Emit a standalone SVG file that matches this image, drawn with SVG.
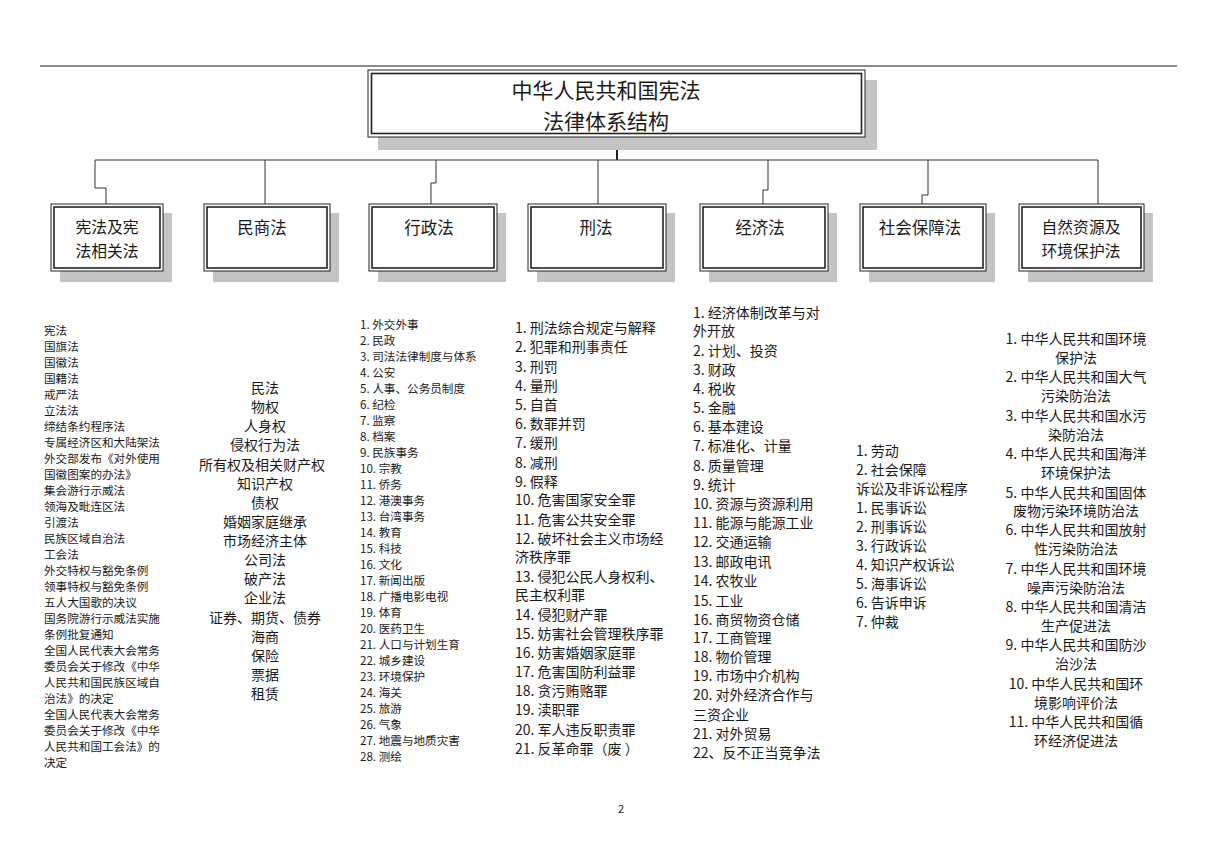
<svg xmlns="http://www.w3.org/2000/svg" width="1218" height="860" viewBox="0 0 1218 860">
<style>
.shadow{fill:#c4c4c4;stroke:none}
.outer{fill:#fff;stroke:#222;stroke-width:1}
.inner{fill:none;stroke:#222;stroke-width:1.6}
.conn{fill:none;stroke:#333;stroke-width:1}
.t{font-family:"Noto Sans CJK SC","Liberation Sans",sans-serif;fill:#1a1a1a;dominant-baseline:central}
.title{font-size:21px;text-anchor:middle}
.cat{font-size:16.5px;text-anchor:middle}
.cat2{font-size:15.8px;text-anchor:middle}
.s11{font-size:11.6px}
.s14{font-size:14px}
.mid{text-anchor:middle}
</style>
<rect x="0" y="0" width="1218" height="860" fill="#fff"/>
<line x1="40" y1="66" x2="1177" y2="66" stroke="#8a8a8a" stroke-width="2"/>

<g id="connectors">
<line x1="617" y1="137" x2="617" y2="160" stroke="#222" stroke-width="2"/>
<line class="conn" x1="95" y1="160" x2="1098" y2="160"/>
<path class="conn" d="M95,160 V188 H106 V204"/>
<path class="conn" d="M265,160 V204"/>
<path class="conn" d="M436,160 V183 H431 V204"/>
<path class="conn" d="M598,160 V204"/>
<path class="conn" d="M768,160 V190 H763 V204"/>
<path class="conn" d="M928,160 V195 H922 V204"/>
<path class="conn" d="M1098,160 V204"/>
</g>

<g id="root">
<rect class="shadow" x="378" y="80" width="499" height="70"/>
<rect class="outer" x="368" y="70" width="497" height="67"/>
<rect class="inner" x="371.5" y="73.5" width="490" height="60"/>
<text class="t title" x="606" y="89">中华人民共和国宪法<tspan x="606" dy="31">法律体系结构</tspan></text>
</g>

<g id="cat1">
<rect class="shadow" x="60" y="213" width="112" height="69"/>
<rect class="outer" x="51" y="204" width="112" height="67"/>
<rect class="inner" x="54" y="207" width="106" height="61"/>
<text class="t cat2" x="107" y="226">宪法及宪<tspan x="107" dy="23.5">法相关法</tspan></text>
</g>
<g id="cat2">
<rect class="shadow" x="213" y="213" width="126" height="69"/>
<rect class="outer" x="204" y="204" width="126" height="67"/>
<rect class="inner" x="207" y="207" width="120" height="61"/>
<text class="t cat" x="262" y="227">民商法</text>
</g>
<g id="cat3">
<rect class="shadow" x="378" y="213" width="128" height="69"/>
<rect class="outer" x="369" y="204" width="128" height="67"/>
<rect class="inner" x="372" y="207" width="122" height="61"/>
<text class="t cat" x="429" y="227">行政法</text>
</g>
<g id="cat4">
<rect class="shadow" x="537" y="213" width="138" height="69"/>
<rect class="outer" x="528" y="204" width="138" height="67"/>
<rect class="inner" x="531" y="207" width="132" height="61"/>
<text class="t cat" x="596" y="227">刑法</text>
</g>
<g id="cat5">
<rect class="shadow" x="709" y="213" width="128" height="69"/>
<rect class="outer" x="700" y="204" width="128" height="67"/>
<rect class="inner" x="703" y="207" width="122" height="61"/>
<text class="t cat" x="760" y="227">经济法</text>
</g>
<g id="cat6">
<rect class="shadow" x="869" y="213" width="126" height="69"/>
<rect class="outer" x="860" y="204" width="126" height="67"/>
<rect class="inner" x="863" y="207" width="120" height="61"/>
<text class="t cat" x="920" y="227">社会保障法</text>
</g>
<g id="cat7">
<rect class="shadow" x="1028" y="213" width="125" height="69"/>
<rect class="outer" x="1019" y="204" width="125" height="67"/>
<rect class="inner" x="1022" y="207" width="119" height="61"/>
<text class="t cat2" x="1081" y="226">自然资源及<tspan x="1081" dy="23.5">环境保护法</tspan></text>
</g>

<g id="list1" class="t s11">
<text x="44" y="330">宪法</text>
<text x="44" y="346">国旗法</text>
<text x="44" y="362">国徽法</text>
<text x="44" y="378">国籍法</text>
<text x="44" y="394">戒严法</text>
<text x="44" y="410">立法法</text>
<text x="44" y="426">缔结条约程序法</text>
<text x="44" y="442">专属经济区和大陆架法</text>
<text x="44" y="458">外交部发布《对外使用</text>
<text x="44" y="474">国徽图案的办法》</text>
<text x="44" y="490">集会游行示威法</text>
<text x="44" y="506">领海及毗连区法</text>
<text x="44" y="522">引渡法</text>
<text x="44" y="538">民族区域自治法</text>
<text x="44" y="554">工会法</text>
<text x="44" y="570">外交特权与豁免条例</text>
<text x="44" y="586">领事特权与豁免条例</text>
<text x="44" y="602">五人大国歌的决议</text>
<text x="44" y="618">国务院游行示威法实施</text>
<text x="44" y="634">条例批复通知</text>
<text x="44" y="650">全国人民代表大会常务</text>
<text x="44" y="666">委员会关于修改《中华</text>
<text x="44" y="682">人民共和国民族区域自</text>
<text x="44" y="698">治法》的决定</text>
<text x="44" y="714">全国人民代表大会常务</text>
<text x="44" y="730">委员会关于修改《中华</text>
<text x="44" y="746">人民共和国工会法》的</text>
<text x="44" y="762">决定</text>
</g>

<g id="list2" class="t s14 mid">
<text x="265" y="387">民法</text>
<text x="265" y="406">物权</text>
<text x="265" y="425">人身权</text>
<text x="265" y="444">侵权行为法</text>
<text x="262" y="464">所有权及相关财产权</text>
<text x="265" y="483">知识产权</text>
<text x="265" y="502">债权</text>
<text x="265" y="521">婚姻家庭继承</text>
<text x="265" y="540">市场经济主体</text>
<text x="265" y="559">公司法</text>
<text x="265" y="578">破产法</text>
<text x="265" y="597">企业法</text>
<text x="265" y="617">证券、期货、债券</text>
<text x="265" y="636">海商</text>
<text x="265" y="655">保险</text>
<text x="265" y="674">票据</text>
<text x="265" y="693">租赁</text>
</g>

<g id="list3" class="t s11">
<text x="360" y="324">1. 外交外事</text>
<text x="360" y="340">2. 民政</text>
<text x="360" y="356">3. 司法法律制度与体系</text>
<text x="360" y="372">4. 公安</text>
<text x="360" y="388">5. 人事、公务员制度</text>
<text x="360" y="404">6. 纪检</text>
<text x="360" y="420">7. 监察</text>
<text x="360" y="436">8. 档案</text>
<text x="360" y="452">9. 民族事务</text>
<text x="360" y="468">10. 宗教</text>
<text x="360" y="484">11. 侨务</text>
<text x="360" y="500">12. 港澳事务</text>
<text x="360" y="516">13. 台湾事务</text>
<text x="360" y="532">14. 教育</text>
<text x="360" y="548">15. 科技</text>
<text x="360" y="564">16. 文化</text>
<text x="360" y="580">17. 新闻出版</text>
<text x="360" y="596">18. 广播电影电视</text>
<text x="360" y="612">19. 体育</text>
<text x="360" y="628">20. 医药卫生</text>
<text x="360" y="644">21. 人口与计划生育</text>
<text x="360" y="660">22. 城乡建设</text>
<text x="360" y="676">23. 环境保护</text>
<text x="360" y="692">24. 海关</text>
<text x="360" y="708">25. 旅游</text>
<text x="360" y="724">26. 气象</text>
<text x="360" y="740">27. 地震与地质灾害</text>
<text x="360" y="756">28. 测绘</text>
</g>

<g id="list4" class="t s14">
<text x="515" y="327">1. 刑法综合规定与解释</text>
<text x="515" y="346">2. 犯罪和刑事责任</text>
<text x="515" y="366">3. 刑罚</text>
<text x="515" y="385">4. 量刑</text>
<text x="515" y="404">5. 自首</text>
<text x="515" y="423">6. 数罪并罚</text>
<text x="515" y="442">7. 缓刑</text>
<text x="515" y="462">8. 减刑</text>
<text x="515" y="481">9. 假释</text>
<text x="515" y="499">10. 危害国家安全罪</text>
<text x="515" y="519">11. 危害公共安全罪</text>
<text x="515" y="538">12. 破坏社会主义市场经</text>
<text x="515" y="556">济秩序罪</text>
<text x="515" y="576">13. 侵犯公民人身权利、</text>
<text x="515" y="594">民主权利罪</text>
<text x="515" y="614">14. 侵犯财产罪</text>
<text x="515" y="633">15. 妨害社会管理秩序罪</text>
<text x="515" y="652">16. 妨害婚姻家庭罪</text>
<text x="515" y="671">17. 危害国防利益罪</text>
<text x="515" y="690">18. 贪污贿赂罪</text>
<text x="515" y="709">19. 渎职罪</text>
<text x="515" y="729">20. 军人违反职责罪</text>
<text x="515" y="748">21. 反革命罪（废 ）</text>
</g>

<g id="list5" class="t s14">
<text x="693" y="312">1. 经济体制改革与对</text>
<text x="693" y="330">外开放</text>
<text x="693" y="350">2. 计划、投资</text>
<text x="693" y="369">3. 财政</text>
<text x="693" y="388">4. 税收</text>
<text x="693" y="407">5. 金融</text>
<text x="693" y="426">6. 基本建设</text>
<text x="693" y="445">7. 标准化、计量</text>
<text x="693" y="465">8. 质量管理</text>
<text x="693" y="484">9. 统计</text>
<text x="693" y="503">10. 资源与资源利用</text>
<text x="693" y="522">11. 能源与能源工业</text>
<text x="693" y="541">12. 交通运输</text>
<text x="693" y="561">13. 邮政电讯</text>
<text x="693" y="580">14. 农牧业</text>
<text x="693" y="600">15. 工业</text>
<text x="693" y="619">16. 商贸物资仓储</text>
<text x="693" y="637">17. 工商管理</text>
<text x="693" y="656">18. 物价管理</text>
<text x="693" y="675">19. 市场中介机构</text>
<text x="693" y="694">20. 对外经济合作与</text>
<text x="693" y="714">三资企业</text>
<text x="693" y="733">21. 对外贸易</text>
<text x="693" y="752">22、反不正当竞争法</text>
</g>

<g id="list6" class="t s14">
<text x="856" y="450">1. 劳动</text>
<text x="856" y="469">2. 社会保障</text>
<text x="856" y="488">诉讼及非诉讼程序</text>
<text x="856" y="507">1. 民事诉讼</text>
<text x="856" y="526">2. 刑事诉讼</text>
<text x="856" y="545">3. 行政诉讼</text>
<text x="856" y="564">4. 知识产权诉讼</text>
<text x="856" y="583">5. 海事诉讼</text>
<text x="856" y="602">6. 告诉申诉</text>
<text x="856" y="621">7. 仲裁</text>
</g>

<g id="list7" class="t s14 mid">
<text x="1076" y="338">1. 中华人民共和国环境</text>
<text x="1076" y="357">保护法</text>
<text x="1076" y="376">2. 中华人民共和国大气</text>
<text x="1076" y="395">污染防治法</text>
<text x="1076" y="415">3. 中华人民共和国水污</text>
<text x="1076" y="434">染防治法</text>
<text x="1076" y="453">4. 中华人民共和国海洋</text>
<text x="1076" y="472">环境保护法</text>
<text x="1076" y="492">5. 中华人民共和国固体</text>
<text x="1076" y="510">废物污染环境防治法</text>
<text x="1076" y="529">6. 中华人民共和国放射</text>
<text x="1076" y="548">性污染防治法</text>
<text x="1076" y="568">7. 中华人民共和国环境</text>
<text x="1076" y="587">噪声污染防治法</text>
<text x="1076" y="606">8. 中华人民共和国清洁</text>
<text x="1076" y="625">生产促进法</text>
<text x="1076" y="644">9. 中华人民共和国防沙</text>
<text x="1076" y="663">治沙法</text>
<text x="1076" y="683">10. 中华人民共和国环</text>
<text x="1076" y="702">境影响评价法</text>
<text x="1076" y="721">11. 中华人民共和国循</text>
<text x="1076" y="740">环经济促进法</text>
</g>

<text class="t mid" style="font-size:11px" x="621" y="808">2</text>
</svg>
